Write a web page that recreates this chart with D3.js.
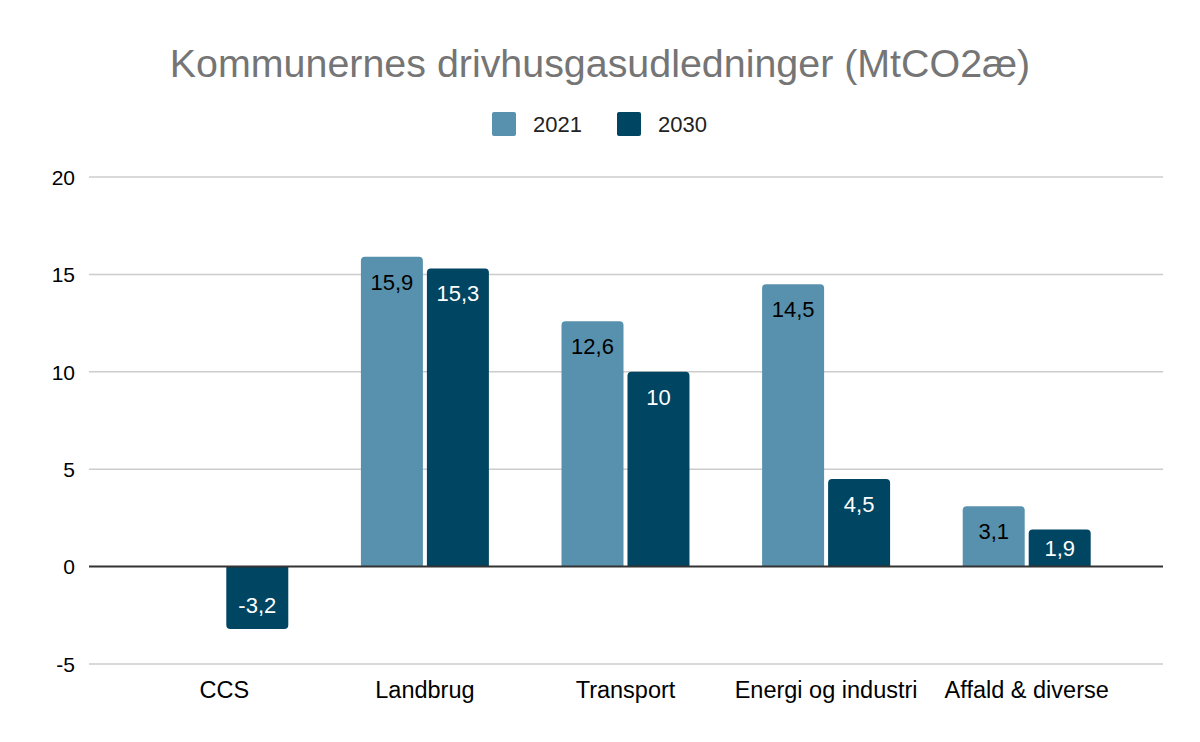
<!DOCTYPE html>
<meta charset="utf-8">
<style>
body { margin: 0; background: #fff; }
text { font-family: "Liberation Sans", Arial, sans-serif; }
</style>
<body>
<script src="https://cdn.jsdelivr.net/npm/d3@7"></script>
<script>
// kategorier og serier
var categories = ["CCS", "Landbrug", "Transport", "Energi og industri", "Affald & diverse"];
var series = ["2021", "2030"];
var values2021 = [null, 15.9, 12.6, 14.5, 3.1];
var values2030 = [-3.2, 15.3, 10, 4.5, 1.9];
var yTicks = [-5, 0, 5, 10, 15, 20];
var colors = ["#5891ad", "#004561"];
var labelColors = ["#000", "#fff"];

var width = 1200, height = 742;

var svg = d3.select("body").append("svg")
    .attr("width", width)
    .attr("height", height);

// skalaer
var y = d3.scaleLinear().domain([-5, 20]).range([664, 177]);

var x0 = d3.scaleBand()
    .domain(categories)
    .range([124, 1127])
    .paddingInner(0.362)
    .paddingOuter(0.181);

var x1 = d3.scaleBand()
    .domain(series)
    .range([0, x0.bandwidth()])
    .paddingInner(0.0606);

// gitterlinjer
svg.append("g")
  .selectAll("line")
  .data(yTicks.filter(function(d) { return d != 0; }))
  .enter().append("line")
    .attr("x1", 89).attr("x2", 1163)
    .attr("y1", function(d) { return y(d); })
    .attr("y2", function(d) { return y(d); })
    .attr("stroke", "#cccccc")
    .attr("stroke-width", 1.5);

// y-akse tal
var yAxis = svg.append("g")
    .attr("transform", "translate(75,0)")
    .call(d3.axisLeft(y).tickValues(yTicks).tickSize(0).tickPadding(0)
      .tickFormat(function(d) { return String(d); }));
yAxis.select(".domain").remove();
yAxis.selectAll("text")
    .attr("font-size", 21)
    .attr("font-family", "'Liberation Sans', Arial, sans-serif")
    .attr("fill", "#000")
    .attr("dy", "0.35em");

// søjler
var rows = categories.map(function(c, i) {
  return { cat: c, vals: [values2021[i], values2030[i]] };
});

function barPath(x, w, v) {
  var r = 4;
  var y0 = y(0), y1 = y(v);
  var s = v >= 0 ? 1 : -1;
  return "M" + x + "," + y0 + "V" + (y1 + s * r) +
    "Q" + x + "," + y1 + " " + (x + r) + "," + y1 +
    "H" + (x + w - r) +
    "Q" + (x + w) + "," + y1 + " " + (x + w) + "," + (y1 + s * r) +
    "V" + y0 + "Z";
}

// etiketten sidder ca. 25px inde i søjlen, men aldrig forbi midten
function labelY(v) {
  var end = y(v), mid = (y(v) + y(0)) / 2;
  return v >= 0 ? Math.min(end + 25, mid) : Math.max(end - 24, mid);
}

var groups = svg.append("g")
  .selectAll("g")
  .data(rows)
  .enter().append("g")
    .attr("transform", function(d) { return "translate(" + x0(d.cat) + ",0)"; });

var cells = groups.selectAll("g")
  .data(function(d) {
    return series.map(function(s, i) { return { s: s, i: i, v: d.vals[i] }; })
      .filter(function(e) { return e.v != null; });
  })
  .enter().append("g");

cells.append("path")
    .attr("d", function(d) { return barPath(x1(d.s), x1.bandwidth(), d.v); })
    .attr("fill", function(d) { return colors[d.i]; });

cells.append("text")
    .attr("x", function(d) { return x1(d.s) + x1.bandwidth() / 2; })
    .attr("y", function(d) { return labelY(d.v); })
    .attr("dy", "0.36em")
    .attr("text-anchor", "middle")
    .attr("font-size", 22)
    .attr("fill", function(d) { return labelColors[d.i]; })
    .text(function(d) { return String(d.v).replace(".", ","); });

// nullinje
svg.append("line")
    .attr("x1", 89).attr("x2", 1163)
    .attr("y1", y(0)).attr("y2", y(0))
    .attr("stroke", "#333333")
    .attr("stroke-width", 2);

// kategori-akse
var xAxis = svg.append("g")
    .attr("transform", "translate(0,681)")
    .call(d3.axisBottom(x0).tickSize(0).tickPadding(0));
xAxis.select(".domain").remove();
xAxis.selectAll("text")
    .attr("font-size", 23.5)
    .attr("font-family", "'Liberation Sans', Arial, sans-serif")
    .attr("fill", "#000");

// titel
svg.append("text")
    .attr("x", 600)
    .attr("y", 77)
    .attr("text-anchor", "middle")
    .style("font-size", "39.4px")
    .attr("fill", "#757575")
    .text("Kommunernes drivhusgasudledninger (MtCO2æ)");

// signaturforklaring
var legendX = [492, 617];
var legend = svg.append("g")
  .selectAll("g")
  .data(series)
  .enter().append("g")
    .attr("transform", function(d, i) { return "translate(" + legendX[i] + ",112)"; });

legend.append("rect")
    .attr("width", 24).attr("height", 24)
    .attr("rx", 2)
    .attr("fill", function(d, i) { return colors[i]; });

legend.append("text")
    .attr("x", 41)
    .attr("y", 20)
    .attr("font-size", 22)
    .attr("fill", "#222")
    .text(function(d) { return d; });
</script>
</body>
